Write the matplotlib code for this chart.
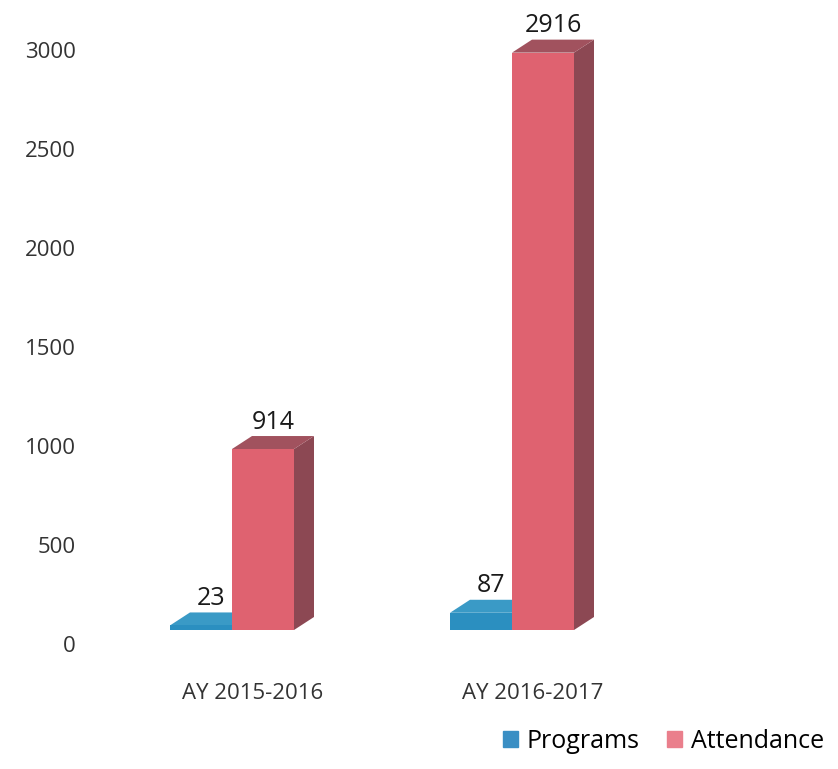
import matplotlib.pyplot as plt
from matplotlib.patches import Polygon
from matplotlib.transforms import ScaledTranslation

years = ['AY 2015-2016', 'AY 2016-2017']
programs = [23, 87]
attendance = [914, 2916]
series = [('Programs', programs), ('Attendance', attendance)]

# front / top / side shades for each series
shades = {
    'Programs': ('#2b8fc0', '#3a9ac6', '#236f95'),
    'Attendance': ('#df6270', '#a1525e', '#8c4853'),
}
legend_colors = {'Programs': '#3a8fc4', 'Attendance': '#ea7f8c'}

plt.rcParams['font.family'] = ['Open Sans', 'DejaVu Sans']
plt.rcParams['font.size'] = 16

W, H = 838, 769
fig = plt.figure(figsize=(W / 100, H / 100), dpi=100)
ax = fig.add_axes([95 / W, 139 / H, (W - 95) / W, (H - 139) / H])

px_x = 280.0      # pixels per group
px_y = 0.198      # pixels per unit
ax.set_xlim((95 - 232) / px_x, (838 - 232) / px_x)
ax.set_ylim(0, 630 / px_y)

width = 62 / px_x
dx = 20 / px_x
dy = 13 / px_y

for i, year in enumerate(years):
    for k, (name, vals) in enumerate(series):
        v = vals[i]
        x0 = i - width + k * width
        x1 = x0 + width
        front, top, side = shades[name]
        ax.add_patch(Polygon([(x1, 0), (x1 + dx, dy), (x1 + dx, v + dy), (x1, v)],
                             closed=True, facecolor=side, edgecolor='none'))
        ax.add_patch(Polygon([(x0, v), (x0 + dx, v + dy), (x1 + dx, v + dy), (x1, v)],
                             closed=True, facecolor=top, edgecolor='none'))
        ax.bar(x0, v, width=width, align='edge', color=front, linewidth=0)
        ax.annotate(str(v), (x0 + width / 2 + dx / 2, v + dy), xytext=(0, 1),
                    textcoords='offset points', ha='center', va='bottom',
                    fontsize=18, color='#1a1a1a')

ax.set_yticks(range(0, 3001, 500))
ax.set_xticks([i + 0.075 for i in range(len(years))])
ax.set_xticklabels(years, color='#333333')
ax.tick_params(axis='x', length=0, pad=38)
ax.tick_params(axis='y', length=0, pad=14, labelcolor='#333333')
shift = ScaledTranslation(0, -14 / 100, fig.dpi_scale_trans)
for lab in ax.get_yticklabels():
    lab.set_transform(lab.get_transform() + shift)
for s in ax.spines.values():
    s.set_visible(False)

handles = [plt.Rectangle((0, 0), 1, 1, color=legend_colors[n]) for n, _ in series]
fig.legend(handles, [n for n, _ in series], loc='lower right',
           bbox_to_anchor=(1.01, -0.01), ncol=2, frameon=False,
           handlelength=0.6, handleheight=0.6, handletextpad=0.35,
           columnspacing=1.1, fontsize=18)

fig.savefig('out.png', dpi=100)
